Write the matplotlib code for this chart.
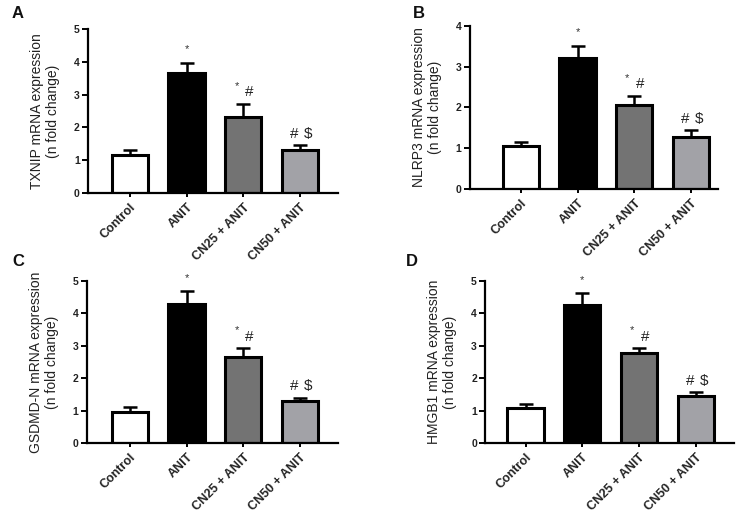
import matplotlib
matplotlib.use("Agg")
import matplotlib.pyplot as plt
import numpy as np

plt.rcParams['font.family'] = ['Liberation Sans', 'DejaVu Sans']

groups = ["Control", "ANIT", "CN25 + ANIT", "CN50 + ANIT"]
bar_colors = ["#ffffff", "#000000", "#737373", "#a2a2a7"]

txnip_mean = [1.17, 3.65, 2.31, 1.30]
txnip_err = [0.15, 0.33, 0.42, 0.16]
nlrp3_mean = [1.06, 3.22, 2.07, 1.27]
nlrp3_err = [0.08, 0.30, 0.22, 0.18]
gsdmd_mean = [0.97, 4.30, 2.66, 1.29]
gsdmd_err = [0.13, 0.39, 0.27, 0.11]
hmgb1_mean = [1.09, 4.27, 2.77, 1.44]
hmgb1_err = [0.11, 0.36, 0.17, 0.12]

sig_marks = [None, ("*", None), ("*", "#"), ("#", "$")]

panels = [
    ("A", "TXNIP mRNA expression\n(n fold change)", txnip_mean, txnip_err, 5,
     [0.1186, 0.628, 0.3369, 0.316], (-0.74, 3.67), (12, 13)),
    ("B", "NLRP3 mRNA expression\n(n fold change)", nlrp3_mean, nlrp3_err, 4,
     [0.633, 0.636, 0.335, 0.314], (-0.9, 3.48), (413, 13)),
    ("C", "GSDMD-N mRNA expression\n(n fold change)", gsdmd_mean, gsdmd_err, 5,
     [0.117, 0.1464, 0.3385, 0.3122], (-0.76, 3.67), (12, 262)),
    ("D", "HMGB1 mRNA expression\n(n fold change)", hmgb1_mean, hmgb1_err, 5,
     [0.654, 0.1464, 0.335, 0.3122], (-0.71, 3.67), (406, 262)),
]

W, H = 742, 519
fig = plt.figure(figsize=(W / 100, H / 100), dpi=100)

for letter, ylabel, means, errs, ymax, rect, xlim, lpos in panels:
    ax = fig.add_axes(rect)
    x = np.arange(len(groups))
    ax.bar(x, means, width=0.64, color=bar_colors, edgecolor="black",
           linewidth=2.2, zorder=2)
    ax.errorbar(x, means, yerr=[np.zeros(len(errs)), errs], fmt="none",
                ecolor="black", elinewidth=1.8, capsize=5, capthick=1.8, zorder=1)
    ax.set_ylim(0, ymax)
    ax.set_xlim(*xlim)
    ax.set_yticks(range(0, ymax + 1))
    ax.set_xticks(x)
    ax.set_xticklabels(groups, rotation=45, ha="right", rotation_mode="anchor",
                       fontsize=9, fontweight="bold", color="#222222")
    for t in ax.get_yticklabels():
        t.set_fontsize(7.5)
        t.set_fontweight("bold")
        t.set_color("#222222")
    ax.set_ylabel(ylabel, fontsize=10, color="#222222", linespacing=1.2,
                  labelpad=10)
    for s in ["top", "right"]:
        ax.spines[s].set_visible(False)
    for s in ["left", "bottom"]:
        ax.spines[s].set_linewidth(1.6)
    ax.tick_params(axis="both", direction="out", width=1.4, length=4, pad=2)
    ax.tick_params(axis="x", length=3, pad=3)
    for i, mk in enumerate(sig_marks):
        if mk is None:
            continue
        top = means[i] + errs[i]
        a, b = mk
        if b is None:
            ax.annotate(a, (x[i], top), xytext=(0, 6), textcoords="offset points",
                        ha="center", va="bottom", fontsize=8, color="#333333")
        else:
            if a == "*":
                ax.annotate(a, (x[i] - 0.12, top), xytext=(0, 9), textcoords="offset points",
                            ha="center", va="bottom", fontsize=8, color="#333333")
            else:
                ax.annotate(a, (x[i] - 0.1, top), xytext=(0, 3), textcoords="offset points",
                            ha="center", va="bottom", fontsize=11, color="#222222")
            ax.annotate(b, (x[i] + (0.1 if a == "*" else 0.15), top), xytext=(0, 3),
                        textcoords="offset points", ha="center", va="bottom",
                        fontsize=11, color="#222222")
    fig.text(lpos[0] / W, 1 - lpos[1] / H, letter, fontsize=12, fontweight="bold",
             color="#111111", ha="left", va="center")

fig.savefig("out.png", dpi=100, facecolor="white")
